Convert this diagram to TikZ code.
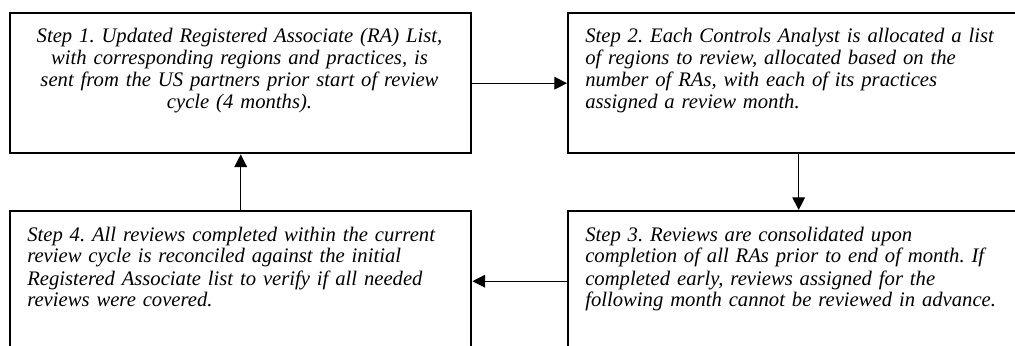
\documentclass[tikz,border=0pt]{standalone}
\usepackage{fontspec}
\setmainfont{Liberation Serif}
\usetikzlibrary{arrows.meta,positioning}

\tikzset{
  stepbox/.style={draw,line width=1.8pt,minimum width=345.75pt,minimum height=105pt,anchor=north west,inner sep=0pt},
  steptext/.style={inner sep=0pt,text width=340pt,align=left,font=\frenchspacing\itshape\fontsize{15.5}{16.5}\selectfont},
  flow/.style={line width=0.9pt,-{Triangle[length=9.5pt,width=9.5pt]}}
}

\begin{document}
\begin{tikzpicture}[x=0.75pt,y=-0.75pt]
\useasboundingbox (0,0) rectangle (1015,346);
\clip (0,0) rectangle (1015,346);

% the four steps
\node[stepbox] (s1) at (9,12) {};
\node[stepbox] (s2) at (567,12) {};
\node[stepbox] (s3) at (567,210) {};
\node[stepbox] (s4) at (9,210) {};

\node[steptext,align=center,anchor=base] (t1) at (239.5,43)
  {Step 1. Updated Registered Associate (RA) List,\\
   with corresponding regions and practices, is\\
   sent from the US partners prior start of review\\
   cycle (4 months).};
\node[steptext,anchor=base west] (t2) at (585,43)
  {Step 2. Each Controls Analyst is allocated a list\\
   of regions to review, allocated based on the\\
   number of RAs, with each of its practices\\
   assigned a review month.};
\node[steptext,anchor=base west] (t3) at (585,241)
  {Step 3. Reviews are consolidated upon\\
   completion of all RAs prior to end of month. If\\
   completed early, reviews assigned for the\\
   following month cannot be reviewed in advance.};
\node[steptext,anchor=base west] (t4) at (27,241)
  {Step 4. All reviews completed within the current\\
   review cycle is reconciled against the initial\\
   Registered Associate list to verify if all needed\\
   reviews were covered.};

% cycle
\draw[flow] (s1) -- (s2);
\draw[flow] (s2) -- (s3);
\draw[flow] (s3) -- (s4);
\draw[flow] (s4) -- (s1);
\end{tikzpicture}
\end{document}
